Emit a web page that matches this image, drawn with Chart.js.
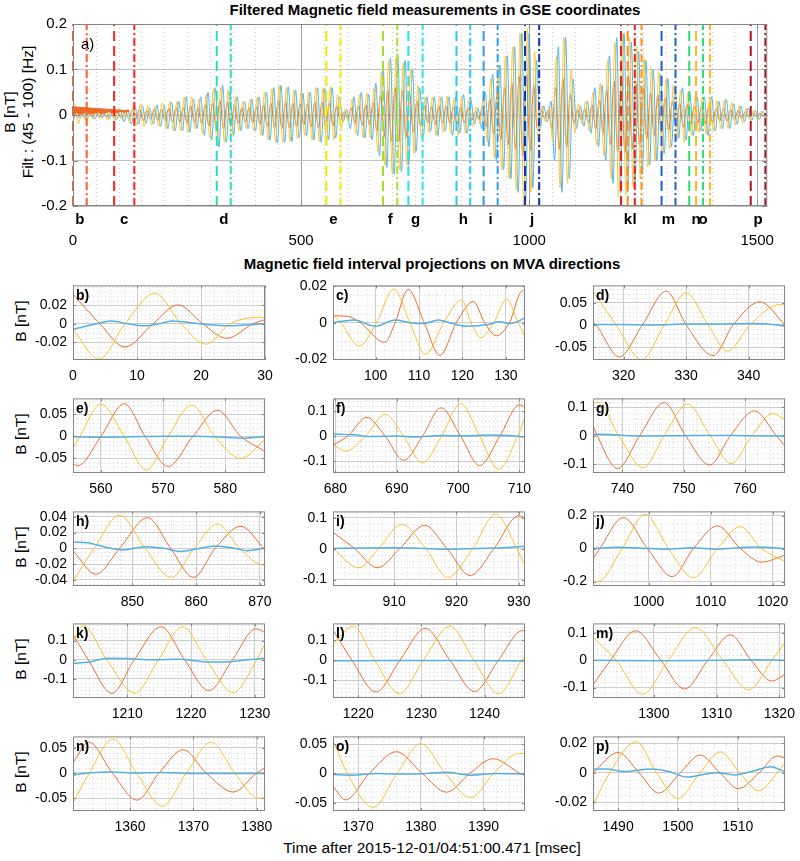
<!DOCTYPE html>
<html><head><meta charset="utf-8">
<script src="https://cdn.jsdelivr.net/npm/chart.js@4.4.1/dist/chart.umd.min.js"></script>
<style>
html,body{margin:0;padding:0;background:#fff}
#wrap{position:relative;width:800px;height:861px;overflow:hidden;background:#fff;font-family:"Liberation Sans",Arial,Helvetica,sans-serif;color:#000}
#wrap canvas{position:absolute}
.lbl{position:absolute;white-space:nowrap;line-height:1;transform:translate(-50%,-50%)}
.rot{transform:translate(-50%,-50%) rotate(-90deg)}
.bold{font-weight:bold}
</style></head>
<body><div id="wrap">
<div class="lbl bold" style="left:435px;top:9px;font-size:15px">Filtered Magnetic field measurements in GSE coordinates</div>
<div class="lbl rot" style="left:10px;top:112px;font-size:15.5px">B [nT]</div>
<div class="lbl rot" style="left:28px;top:112px;font-size:15.5px">Filt : (45 - 100) [Hz]</div>
<div class="lbl bold" style="left:432px;top:263px;font-size:15px">Magnetic field interval projections on MVA directions</div>
<div class="lbl rot" style="left:21px;top:321px;font-size:15.5px">B [nT]</div>
<div class="lbl rot" style="left:21px;top:434px;font-size:15.5px">B [nT]</div>
<div class="lbl rot" style="left:21px;top:547px;font-size:15.5px">B [nT]</div>
<div class="lbl rot" style="left:21px;top:659px;font-size:15.5px">B [nT]</div>
<div class="lbl rot" style="left:21px;top:772px;font-size:15.5px">B [nT]</div>
<div class="lbl" style="left:432px;top:848px;font-size:15.5px">Time after 2015-12-01/04:51:00.471 [msec]</div>
</div>
<script>
// ---------------- DATA ----------------
// Top panel: filtered field, half-cycle extrema sampled every TOP_STEP ms
const TOP_STEP = 8;
const TOP_T0_BLUE = 0, TOP_T0_ORANGE = 2, TOP_T0_YELLOW = 4;
const topBlue = [-.012,.008,-.006,.007,-.008,.006,-.009,.008,-.007,.01,
 -.008,.009,-.01,.012,-.015,.012,-.02,.018,-.02,.02,
 -.018,.015,-.02,.022,-.025,.02,-.03,.028,-.035,.03,
 -.035,.04,-.038,.035,-.03,.04,-.045,.05,-.055,.06,
 -.07,.065,-.06,.05,-.045,.04,-.035,.03,-.03,.035,
 -.035,.04,-.045,.05,-.055,.06,-.062,.065,-.06,.062,
 -.058,.055,-.05,.048,-.045,.05,-.055,.06,-.06,.058,
 -.055,.06,-.05,.04,-.015,.012,-.03,.04,-.045,.05,
 -.05,.045,-.055,.07,-.09,.1,-.115,.125,-.13,.13,
 -.125,.12,-.11,.1,-.08,.06,-.045,.04,-.035,.04,
 -.045,.04,-.035,.04,-.045,.04,-.04,.045,-.04,.035,
 -.02,.015,-.03,.05,-.07,.09,-.1,.11,-.12,.13,
 -.14,.15,-.17,.18,-.19,.18,-.16,.12,-.03,.02,
 -.015,.03,-.1,.15,-.17,.17,-.14,.08,-.03,.02,
 -.025,.03,-.04,.06,-.07,.065,-.1,.13,-.15,.17,
 -.17,.18,-.17,.16,-.15,.14,-.13,.12,-.11,.1,
 -.1,.09,-.085,.08,-.07,.06,-.05,.06,-.055,.05,
 -.045,.04,-.035,.04,-.045,.04,-.035,.03,-.03,.035,
 -.03,.025,-.02,.02,-.015,.015,-.012,.01,-.01,.008,
 -.005];
const topYellow = [.025,-.02,.015,-.012,.008,-.01,.012,-.008,.01,-.012,
 .01,-.012,.015,-.01,.012,-.018,.02,-.022,.025,-.025,
 .02,-.022,.018,-.025,.028,-.03,.03,-.035,.03,-.035,
 .04,-.038,.04,-.03,.035,-.04,.045,-.05,.058,-.065,
 .06,-.06,.055,-.045,.04,-.035,.03,-.03,.035,-.035,
 .04,-.045,.05,-.055,.058,-.06,.065,-.06,.06,-.058,
 .055,-.052,.05,-.045,.05,-.055,.06,-.058,.06,-.06,
 .062,-.055,.045,-.03,.012,-.015,.035,-.04,.045,-.05,
 .048,-.05,.06,-.08,.095,-.11,.12,-.13,.125,-.12,
 .115,-.11,.1,-.085,.065,-.05,.04,-.038,.04,-.045,
 .04,-.038,.042,-.04,.038,-.045,.04,-.04,.035,-.025,
 .018,-.02,.04,-.06,.08,-.095,.11,-.12,.13,-.14,
 .15,-.165,.18,-.2,.19,-.17,.14,-.06,.02,-.015,
 .02,-.06,.13,-.16,.17,-.15,.1,-.04,.025,-.02,
 .03,-.035,.05,-.065,.07,-.09,.12,-.14,.16,-.18,
 .18,-.175,.17,-.16,.15,-.14,.125,-.115,.105,-.1,
 .095,-.09,.08,-.075,.065,-.055,.055,-.06,.05,-.045,
 .04,-.038,.04,-.042,.04,-.035,.032,-.03,.032,-.03,
 .028,-.022,.02,-.018,.015,-.012,.01,-.01,.008,-.006,
 .005];
const topOrange = [.008,-.006,.005,-.006,.005,-.004,.006,-.005,.006,-.006,
 .005,-.006,.006,-.007,.008,-.008,.01,-.009,.012,-.012,
 .01,-.009,.012,-.012,.013,-.012,.015,-.014,.016,-.015,
 .016,-.018,.02,-.016,.015,-.018,.022,-.024,.026,-.03,
 .032,-.03,.028,-.024,.02,-.018,.016,-.015,.016,-.017,
 .018,-.02,.022,-.024,.026,-.028,.03,-.03,.028,-.028,
 .026,-.025,.024,-.022,.024,-.026,.028,-.028,.028,-.026,
 .026,-.024,.02,-.012,.006,-.007,.015,-.018,.02,-.022,
 .022,-.022,.027,-.035,.042,-.048,.055,-.058,.06,-.058,
 .055,-.05,.045,-.038,.03,-.024,.02,-.018,.018,-.02,
 .02,-.018,.019,-.018,.018,-.02,.018,-.018,.016,-.012,
 .008,-.01,.018,-.025,.035,-.042,.048,-.055,.06,-.065,
 .07,-.075,.085,-.09,.088,-.078,.065,-.03,.01,-.008,
 .01,-.03,.06,-.075,.08,-.07,.045,-.018,.012,-.01,
 .013,-.016,.022,-.03,.032,-.04,.055,-.065,.075,-.08,
 .085,-.082,.08,-.075,.07,-.065,.058,-.052,.048,-.045,
 .044,-.04,.037,-.034,.03,-.026,.025,-.027,.023,-.02,
 .018,-.017,.018,-.019,.018,-.016,.014,-.013,.014,-.013,
 .012,-.01,.009,-.008,.007,-.006,.005,-.004,.004,-.003,
 .002];
const wedgeTop = [[0,0.018],[124,0.009]];
const wedgeBot = [[0,0.0],[8,0.005],[14,0.001],[30,0.006],[38,0.002],[55,0.006],[62,0.003],[80,0.007],[88,0.004],[105,0.008],[112,0.006],[124,0.009]];
const topXTicks = [0,500,1000,1500];
const topYTicks = [-0.2,-0.1,0,0.1,0.2];

// Intervals (ms)
const intervalLetters = ['b','c','d','e','f','g','h','i','j','k','l','m','n','o','p'];
const intervalStart = [0,90.2,315.1,555.5,679.6,735.2,840.7,900.2,991,1201.5,1216,1290.3,1351,1366,1485.8];
const intervalEnd   = [30,134.4,345.8,586.4,710.9,766.5,870.8,931,1022,1231.6,1246.4,1320.9,1381.3,1396.6,1517.9];
const intervalColors = ['#FF5A28','#FF2020','#22E0C0','#F0E600','#A2E022','#22E6EA','#22CCF6','#2A9EF0','#1230B4','#F01818','#FF8E10','#1C5EE0','#2ADE72','#FFB818','#B01020'];

// Panel y-limits and ticks
const panelYLim = [[-0.039,0.0415],[-0.0205,0.0205],[-0.079,0.089],[-0.083,0.086],[-0.148,0.151],[-0.131,0.131],[-0.048,0.047],[-0.121,0.121],[-0.227,0.225],[-0.2,0.19],[-0.19,0.185],[-0.138,0.135],[-0.0756,0.0724],[-0.064,0.063],[-0.026,0.0246]];
const panelXTicks = [[0,10,20,30],[100,110,120,130],[320,330,340],[560,570,580],[680,690,700,710],[740,750,760],[850,860,870],[910,920,930],[1000,1010,1020],[1210,1220,1230],[1220,1230,1240],[1300,1310,1320],[1360,1370,1380],[1370,1380,1390],[1490,1500,1510]];
const panelYTicks = [[-0.02,0,0.02],[-0.02,0,0.02],[-0.05,0,0.05],[-0.05,0,0.05],[-0.1,0,0.1],[-0.1,0,0.1],[-0.04,-0.02,0,0.02,0.04],[-0.1,0,0.1],[-0.2,0,0.2],[-0.1,0,0.1],[-0.1,0,0.1],[-0.1,0,0.1],[-0.05,0,0.05],[-0.05,0,0.05],[-0.02,0,0.02]];

// MVA projections: [time ms, B nT]
const yelB = [[0,-0.006],[4.1,-0.038],[8.1,0],[12.8,0.033],[16.9,0],[20.8,-0.022],[24.5,0],[29.5,0.007],[30,0.007]];
const oraB = [[0,0.032],[4.2,0],[8.1,-0.025],[12.5,0],[16.4,0.0205],[20.3,0],[24,-0.0156],[28.1,0],[30,0.0046]];
const bluB = [[0,-0.006],[3.6,0],[6,0.003],[8.6,0],[11.2,-0.002],[13.3,0],[15.5,0.003],[19.8,0],[25,-0.002],[30,0]];
const yelC = [[90.2,0.0046],[92,0],[96.3,-0.0128],[100.2,0],[104.2,0.0185],[107.9,0],[111.5,-0.0174],[115.7,0],[119.8,0.0125],[122,0],[124.2,-0.0082],[127.2,0],[130.2,0.013],[132.8,0],[134.4,-0.0077]];
const oraC = [[90.2,0.0038],[93.6,0.0035],[96.5,0],[102.1,-0.0108],[104.5,0],[107.5,0.0183],[111.2,0],[114.8,-0.018],[118.6,0],[122.5,0.0116],[125.1,0],[127.8,-0.0072],[130.8,0],[133.8,0.0175],[134.4,0.017]];
const bluC = [[90.2,0],[95,0.0015],[100,-0.002],[104.5,0.0015],[108,0],[111,-0.0005],[114.5,0.0015],[117,0],[121,-0.002],[126,-0.001],[128.5,0.0005],[131,-0.0005],[134.4,0.0025]];
const yelD = [[315.1,0.076],[318.8,0],[322.9,-0.078],[326.5,0],[330,0.072],[333.5,0],[336.6,-0.059],[340.2,0],[345,0.046],[345.8,0.045]];
const oraD = [[315.1,0.007],[315.6,0],[319.3,-0.072],[323,0],[326.8,0.076],[330,0],[334.3,-0.069],[337.5,0],[341.8,0.052],[345.8,0]];
const bluD = [[315.1,0.001],[320,0.001],[325,0],[330,0.002],[335,0.002],[340,0.003],[343,0.002],[345.8,-0.002]];
const yelE = [[555.5,-0.027],[556.6,0],[560,0.073],[563.75,0],[567.3,-0.076],[570.8,0],[574.6,0.071],[578.3,0],[582.5,-0.05],[586.4,-0.007]];
const oraE = [[555.5,-0.062],[556.3,-0.066],[560,0],[563.75,0.074],[567.1,0],[570.8,-0.068],[574.8,0],[578.75,0.059],[582.5,0],[586.4,-0.034]];
const bluE = [[555.5,-0.001],[560,-0.002],[565,-0.001],[570,0],[575,0],[580,-0.002],[583,-0.004],[586.4,-0.001]];
const yelF = [[679.6,-0.035],[681.7,-0.06],[684.9,0],[688.1,0.0875],[691.1,0],[694.2,-0.107],[697.3,0],[700.4,0.13],[703.5,0],[706.6,-0.133],[709.7,0],[710.9,0.078]];
const oraF = [[679.6,-0.037],[682,0],[685.1,0.075],[688.1,0],[691.1,-0.097],[694.2,0],[697.2,0.113],[700.4,0],[703.5,-0.118],[706.8,0],[710,0.125],[710.9,0.115]];
const bluF = [[679.6,0.008],[683,0.005],[686,-0.002],[690,0],[693,-0.004],[697,0.002],[701,0.001],[705,0.004],[708,0.002],[710.9,-0.003]];
const yelG = [[735.2,0.116],[736,0.117],[739.4,0],[743.4,-0.112],[746.8,0],[750.6,0.111],[754.3,0],[757.7,-0.098],[761.1,0],[764.5,0.078],[766.5,0.057]];
const oraG = [[735.2,0.037],[735.9,0],[739.2,-0.115],[742.8,0],[746.8,0.116],[750.3,0],[754.2,-0.103],[757.6,0],[761.5,0.087],[765.1,0],[766.5,-0.036]];
const bluG = [[735.2,0.005],[738,0.004],[741,0],[745,-0.001],[750,0],[755,0.001],[760,0],[766.5,-0.001]];
const yelH = [[840.7,-0.042],[844,0],[848,0.042],[852,0],[856.1,-0.037],[859.7,0],[863.4,0.031],[866.8,0],[870.5,-0.021],[870.8,-0.0205]];
const oraH = [[840.7,-0.003],[844.3,-0.033],[848,0],[852.4,0.039],[856,0],[859.6,-0.037],[863,0],[867,0.028],[870.8,-0.002]];
const bluH = [[840.7,0.008],[843,0.007],[846,0.001],[848.5,-0.002],[852,0.002],[855,0],[857.5,-0.004],[860,-0.001],[863,0.003],[866,0],[868,-0.003],[870.8,0]];
const yelI = [[900.2,0.001],[904.3,-0.062],[907.5,0],[911.2,0.079],[915.1,0],[918.6,-0.093],[922.6,0],[926.3,0.112],[929.7,0],[931,-0.054]];
const oraI = [[900.2,0.053],[903.7,0],[907.3,-0.062],[910.9,0],[914.9,0.076],[918.5,0],[922.2,-0.087],[926,0],[930,0.107],[931,0.1]];
const bluI = [[900.2,0.001],[905,0.002],[910,0.003],[915,0.001],[918,-0.002],[922,0],[926,0.002],[931,0.008]];
const yelJ = [[991,-0.198],[991.8,-0.2],[995.7,0],[999.4,0.207],[1003.2,0],[1007.2,-0.176],[1011.1,0],[1014.8,0.133],[1018.2,0],[1022,-0.078]];
const oraJ = [[991,-0.062],[992.1,0],[995.9,0.187],[999.8,0],[1003.8,-0.17],[1007.2,0],[1011.1,0.137],[1014.8,0],[1018.2,-0.082],[1022,-0.04]];
const bluJ = [[991,0],[995,0.008],[999,0.002],[1003,-0.004],[1007,0.004],[1011,-0.004],[1014,0.004],[1017,0.01],[1019.5,0.006],[1022,0]];
const yelK = [[1201.5,0.092],[1203.1,0.178],[1206.8,0],[1211.2,-0.175],[1214.9,0],[1218.7,0.172],[1222.4,0],[1226.6,-0.172],[1230.3,0],[1231.6,0.083]];
const oraK = [[1201.5,0.133],[1203.9,0],[1207.6,-0.175],[1211.1,0],[1215.3,0.172],[1219,0],[1222.8,-0.162],[1226.5,0],[1230.2,0.162],[1231.6,0.142]];
const bluK = [[1201.5,-0.02],[1204,-0.012],[1207,0.008],[1210,0.006],[1214,0],[1218,0.002],[1223,-0.012],[1226,-0.01],[1229,0],[1231.6,0.008]];
const yelL = [[1216,0.08],[1219.2,0.171],[1222.6,0],[1226.5,-0.168],[1230.3,0],[1234.5,0.171],[1238.3,0],[1242.2,-0.168],[1245.9,0],[1246.4,0.02]];
const oraL = [[1216,0.152],[1219,0],[1222.8,-0.16],[1226.6,0],[1230.6,0.16],[1234.5,0],[1238.4,-0.157],[1242.2,0],[1246,0.149],[1246.4,0.148]];
const bluL = [[1216,-0.003],[1225,-0.002],[1235,-0.001],[1246.4,-0.004]];
const yelM = [[1290.3,0.085],[1294,0],[1298.2,-0.124],[1302.3,0],[1306.6,0.12],[1311,0],[1315.1,-0.108],[1318.8,0],[1320.9,0.066]];
const oraM = [[1290.3,-0.09],[1293.1,0],[1297.1,0.108],[1301.1,0],[1304.9,-0.105],[1308.6,0],[1312.2,0.093],[1315.5,0],[1318.8,-0.076],[1320.9,-0.052]];
const bluM = [[1290.3,0],[1300,-0.002],[1310,0],[1316,0.002],[1320.9,0]];
const yelN = [[1351,-0.059],[1353.6,0],[1357.3,0.067],[1361,0],[1365.1,-0.066],[1368.9,0],[1372.8,0.061],[1376.5,0],[1380.3,-0.05],[1381.3,-0.05]];
const oraN = [[1351,0.0205],[1353.5,0.061],[1357.2,0],[1361.1,-0.054],[1364.6,0],[1368.4,0.046],[1372,0],[1376.3,-0.038],[1380,0],[1381.3,0.01]];
const bluN = [[1351,-0.004],[1353.5,0],[1357,0.002],[1361,0],[1365,0.001],[1370,-0.001],[1375,-0.001],[1381.3,-0.001]];
const yelO = [[1366,0.056],[1368.3,0],[1372.4,-0.058],[1376.2,0],[1380,0.0505],[1383.9,0],[1387.9,-0.041],[1391.6,0],[1395.6,0.034],[1396.6,0.034]];
const oraO = [[1366,-0.022],[1368,-0.045],[1371.8,0],[1376.1,0.037],[1380.2,0],[1384.1,-0.032],[1387.8,0],[1391.5,0.025],[1395.8,0],[1396.6,-0.004]];
const bluO = [[1366,-0.002],[1369,-0.003],[1373,0],[1377,-0.001],[1381,0],[1384,0.002],[1388,-0.003],[1392,0],[1396.6,-0.001]];
const yelP = [[1485.8,-0.022],[1488.6,0],[1493,0.021],[1496.4,0],[1500,-0.0175],[1503.7,0],[1507.1,0.0141],[1510.3,0],[1513.5,-0.0122],[1516.6,0],[1517.9,0.0065]];
const oraP = [[1485.8,0],[1490,0.0137],[1493.5,0],[1496.8,-0.0139],[1500.4,0],[1503.7,0.012],[1507,0],[1510.1,-0.0108],[1513.6,0],[1516.6,0.0113],[1517.9,0.01]];
const bluP = [[1485.8,0.0025],[1488,0.0025],[1491,0.0008],[1495.5,0.0025],[1498.5,0.0008],[1501.5,-0.003],[1504.5,-0.001],[1506.5,0],[1509.5,-0.0015],[1512.5,0.001],[1515.5,0.004],[1517.9,0.0005]];

const panelYellow = [yelB,yelC,yelD,yelE,yelF,yelG,yelH,yelI,yelJ,yelK,yelL,yelM,yelN,yelO,yelP];
const panelOrange = [oraB,oraC,oraD,oraE,oraF,oraG,oraH,oraI,oraJ,oraK,oraL,oraM,oraN,oraO,oraP];
const panelBlue   = [bluB,bluC,bluD,bluE,bluF,bluG,bluH,bluI,bluJ,bluK,bluL,bluM,bluN,bluO,bluP];

// ---------------- STYLE / LAYOUT ----------------
const FONT = '"Liberation Sans", Arial, Helvetica, sans-serif';
Chart.defaults.font.family = FONT;
Chart.defaults.color = '#000';
const T_BLUE = '#4DB6E8', T_ORANGE = '#EC6A28', T_YELLOW = '#F8C547';
const S_BLUE = '#55B0E0', S_ORANGE = '#EE6B2D', S_YELLOW = '#F9C030';
const BOX = '#858585';

function xy(pairs){ return pairs.map(p => ({x:p[0], y:p[1]})); }
function sampled(vals, t0, step){ return vals.map((v,i) => ({x: t0 + i*step, y: v})); }

function build(cfg){
  const W = (cfg.R - cfg.L) + cfg.yw + cfg.pr;
  const H = (cfg.B - cfg.T) + cfg.pt + cfg.xh;
  const cv = document.createElement('canvas');
  cv.width = W; cv.height = H;
  cv.style.left = (cfg.L - cfg.yw) + 'px'; cv.style.top = (cfg.T - cfg.pt) + 'px';
  cv.style.width = W + 'px'; cv.style.height = H + 'px';
  document.getElementById('wrap').appendChild(cv);
  const near = (arr, v) => arr.some(t => Math.abs(t - v) < 1e-7);
  const deco = {
    id: 'deco',
    beforeDatasetsDraw(chart){
      const ctx = chart.ctx, ca = chart.chartArea, xs = chart.scales.x, ys = chart.scales.y;
      ctx.save();
      ctx.beginPath(); ctx.rect(ca.left, ca.top, ca.right - ca.left, ca.bottom - ca.top); ctx.clip();
      ctx.strokeStyle = cfg.minorColor; ctx.lineWidth = 1; ctx.setLineDash(cfg.minorDash);
      if (cfg.xminor){
        for (let k = Math.ceil(cfg.xmin / cfg.xminor); k * cfg.xminor <= cfg.xmax; k++){
          const v = k * cfg.xminor;
          if (near(cfg.xticks, v)) continue;
          const px = Math.round(xs.getPixelForValue(v)) + 0.5;
          ctx.beginPath(); ctx.moveTo(px, ca.top); ctx.lineTo(px, ca.bottom); ctx.stroke();
        }
      }
      if (cfg.yminor){
        for (let k = Math.ceil(cfg.ymin / cfg.yminor - 1e-9); k * cfg.yminor <= cfg.ymax; k++){
          const v = k * cfg.yminor;
          if (near(cfg.yticks, v)) continue;
          const py = Math.round(ys.getPixelForValue(v)) + 0.5;
          ctx.beginPath(); ctx.moveTo(ca.left, py); ctx.lineTo(ca.right, py); ctx.stroke();
        }
      }
      ctx.restore();
    },
    afterDatasetsDraw(chart){
      if (!cfg.events) return;
      const ctx = chart.ctx, ca = chart.chartArea, xs = chart.scales.x;
      ctx.save(); ctx.lineWidth = 2;
      cfg.events.forEach(ev => {
        [[ev.start, [10,5]], [ev.end, [8,3,2,3]]].forEach(([v, d]) => {
          const px = xs.getPixelForValue(v);
          ctx.strokeStyle = ev.color; ctx.setLineDash(d);
          ctx.beginPath(); ctx.moveTo(px, ca.bottom); ctx.lineTo(px, ca.top); ctx.stroke();
        });
      });
      ctx.restore();
    },
    afterDraw(chart){
      const ctx = chart.ctx, ca = chart.chartArea, xs = chart.scales.x, ys = chart.scales.y;
      ctx.save();
      ctx.strokeStyle = BOX; ctx.lineWidth = 1; ctx.setLineDash([]);
      ctx.strokeRect(ca.left + 0.5, ca.top + 0.5, ca.right - ca.left - 1, ca.bottom - ca.top - 1);
      const tl = cfg.tickLen;
      ctx.beginPath();
      cfg.xticks.forEach(v => {
        const px = Math.round(xs.getPixelForValue(v)) + 0.5;
        ctx.moveTo(px, ca.bottom); ctx.lineTo(px, ca.bottom - tl);
        ctx.moveTo(px, ca.top); ctx.lineTo(px, ca.top + tl);
      });
      cfg.yticks.forEach(v => {
        const py = Math.round(ys.getPixelForValue(v)) + 0.5;
        ctx.moveTo(ca.left, py); ctx.lineTo(ca.left + tl, py);
        ctx.moveTo(ca.right, py); ctx.lineTo(ca.right - tl, py);
      });
      ctx.stroke();
      ctx.fillStyle = '#000';
      if (cfg.panelLabel){
        ctx.font = cfg.panelLabelFont; ctx.textAlign = 'left'; ctx.textBaseline = 'middle';
        ctx.fillText(cfg.panelLabel, ca.left + cfg.plx, ca.top + cfg.ply);
      }
      if (cfg.events){
        ctx.font = 'bold 15px ' + FONT; ctx.textAlign = 'center'; ctx.textBaseline = 'middle';
        cfg.events.forEach(ev => ctx.fillText(ev.letter, xs.getPixelForValue((ev.start + ev.end) / 2), ca.bottom + 14));
      }
      ctx.restore();
    }
  };
  return new Chart(cv, {
    type: 'line',
    data: { datasets: cfg.datasets },
    options: {
      responsive: false, maintainAspectRatio: false, animation: false, devicePixelRatio: 1, events: [],
      layout: { padding: { left: 0, right: cfg.pr, top: cfg.pt, bottom: 0 } },
      plugins: { legend: { display: false }, tooltip: { enabled: false } },
      elements: { point: { radius: 0, hoverRadius: 0 } },
      scales: {
        x: { type: 'linear', min: cfg.xmin, max: cfg.xmax,
          afterBuildTicks: s => { s.ticks = cfg.xticks.map(v => ({ value: v })); },
          afterFit: s => { s.height = cfg.xh; },
          grid: { color: cfg.xgrid, lineWidth: 1, drawTicks: false },
          border: { display: false },
          ticks: { autoSkip: false, maxRotation: 0, minRotation: 0, padding: cfg.xpad, font: { size: cfg.fs }, color: '#000', callback: v => String(v) } },
        y: { type: 'linear', min: cfg.ymin, max: cfg.ymax,
          afterBuildTicks: s => { s.ticks = cfg.yticks.map(v => ({ value: v })); },
          afterFit: s => { s.width = cfg.yw; },
          grid: { color: cfg.ygrid, lineWidth: 1, drawTicks: false },
          border: { display: false },
          ticks: { autoSkip: false, padding: cfg.ypad, font: { size: cfg.fs }, color: '#000', callback: v => String(v) } }
      }
    },
    plugins: [deco]
  });
}

// ---------------- TOP PANEL ----------------
const events = intervalLetters.map((l, i) => ({ letter: l, start: intervalStart[i], end: intervalEnd[i], color: intervalColors[i] }));
build({
  L: 73, T: 21, R: 792, B: 206, yw: 73, pt: 12, pr: 8, xh: 45,
  xmin: 0, xmax: 1522, ymin: -0.2, ymax: 0.2,
  xticks: topXTicks, yticks: topYTicks, xminor: 50, yminor: null,
  minorColor: '#cccccc', minorDash: [1, 3],
  xgrid: '#a3a3a3', ygrid: '#c2c2c2', fs: 15, xpad: 26, ypad: 6, tickLen: 5,
  panelLabel: 'a)', panelLabelFont: '15px ' + FONT, plx: 8, ply: 21,
  events: events,
  datasets: [
    { data: xy(wedgeTop), borderColor: T_ORANGE, backgroundColor: T_ORANGE, borderWidth: 1, fill: '+1', tension: 0 },
    { data: xy(wedgeBot), borderColor: T_ORANGE, borderWidth: 1, fill: false, tension: 0 },
    { data: sampled(topYellow, TOP_T0_YELLOW, TOP_STEP), borderColor: T_YELLOW, borderWidth: 1, fill: false, cubicInterpolationMode: 'monotone' },
    { data: sampled(topBlue, TOP_T0_BLUE, TOP_STEP), borderColor: T_BLUE, borderWidth: 1, fill: false, cubicInterpolationMode: 'monotone' },
    { data: sampled(topOrange, TOP_T0_ORANGE, TOP_STEP), borderColor: T_ORANGE, borderWidth: 1, fill: false, cubicInterpolationMode: 'monotone' }
  ]
});

// ---------------- SMALL PANELS ----------------
const COL_L = [73, 333, 593], ROW_T = [283, 396, 509, 621, 734];
function minorStep(sp){
  const m = Math.round(sp * 1000);
  if (m === 20) return 0.005;
  if (m === 50) return 0.01;
  if (m === 100) return 0.02;
  return 0.05;
}
for (let i = 0; i < 15; i++){
  const row = Math.floor(i / 3), col = i % 3;
  const L = COL_L[col], T = ROW_T[row];
  const yt = panelYTicks[i];
  build({
    L: L, T: T, R: L + 192, B: T + 77, yw: 73, pt: 12, pr: 22, xh: 30,
    xmin: intervalStart[i], xmax: intervalEnd[i], ymin: panelYLim[i][0], ymax: panelYLim[i][1],
    xticks: panelXTicks[i], yticks: yt, xminor: 2, yminor: minorStep(yt[1] - yt[0]),
    minorColor: '#d6d6d6', minorDash: [1, 3],
    xgrid: '#cdcdcd', ygrid: '#cdcdcd', fs: 14, xpad: 8, ypad: 6, tickLen: 3,
    panelLabel: intervalLetters[i] + ')', panelLabelFont: 'bold 14px ' + FONT, plx: 3, ply: 11,
    datasets: [
      { data: xy(panelBlue[i]), borderColor: S_BLUE, borderWidth: 1.5, fill: false, cubicInterpolationMode: 'monotone' },
      { data: xy(panelYellow[i]), borderColor: S_YELLOW, borderWidth: 1, fill: false, cubicInterpolationMode: 'monotone' },
      { data: xy(panelOrange[i]), borderColor: S_ORANGE, borderWidth: 1, fill: false, cubicInterpolationMode: 'monotone' }
    ]
  });
}
</script>
</body></html>
